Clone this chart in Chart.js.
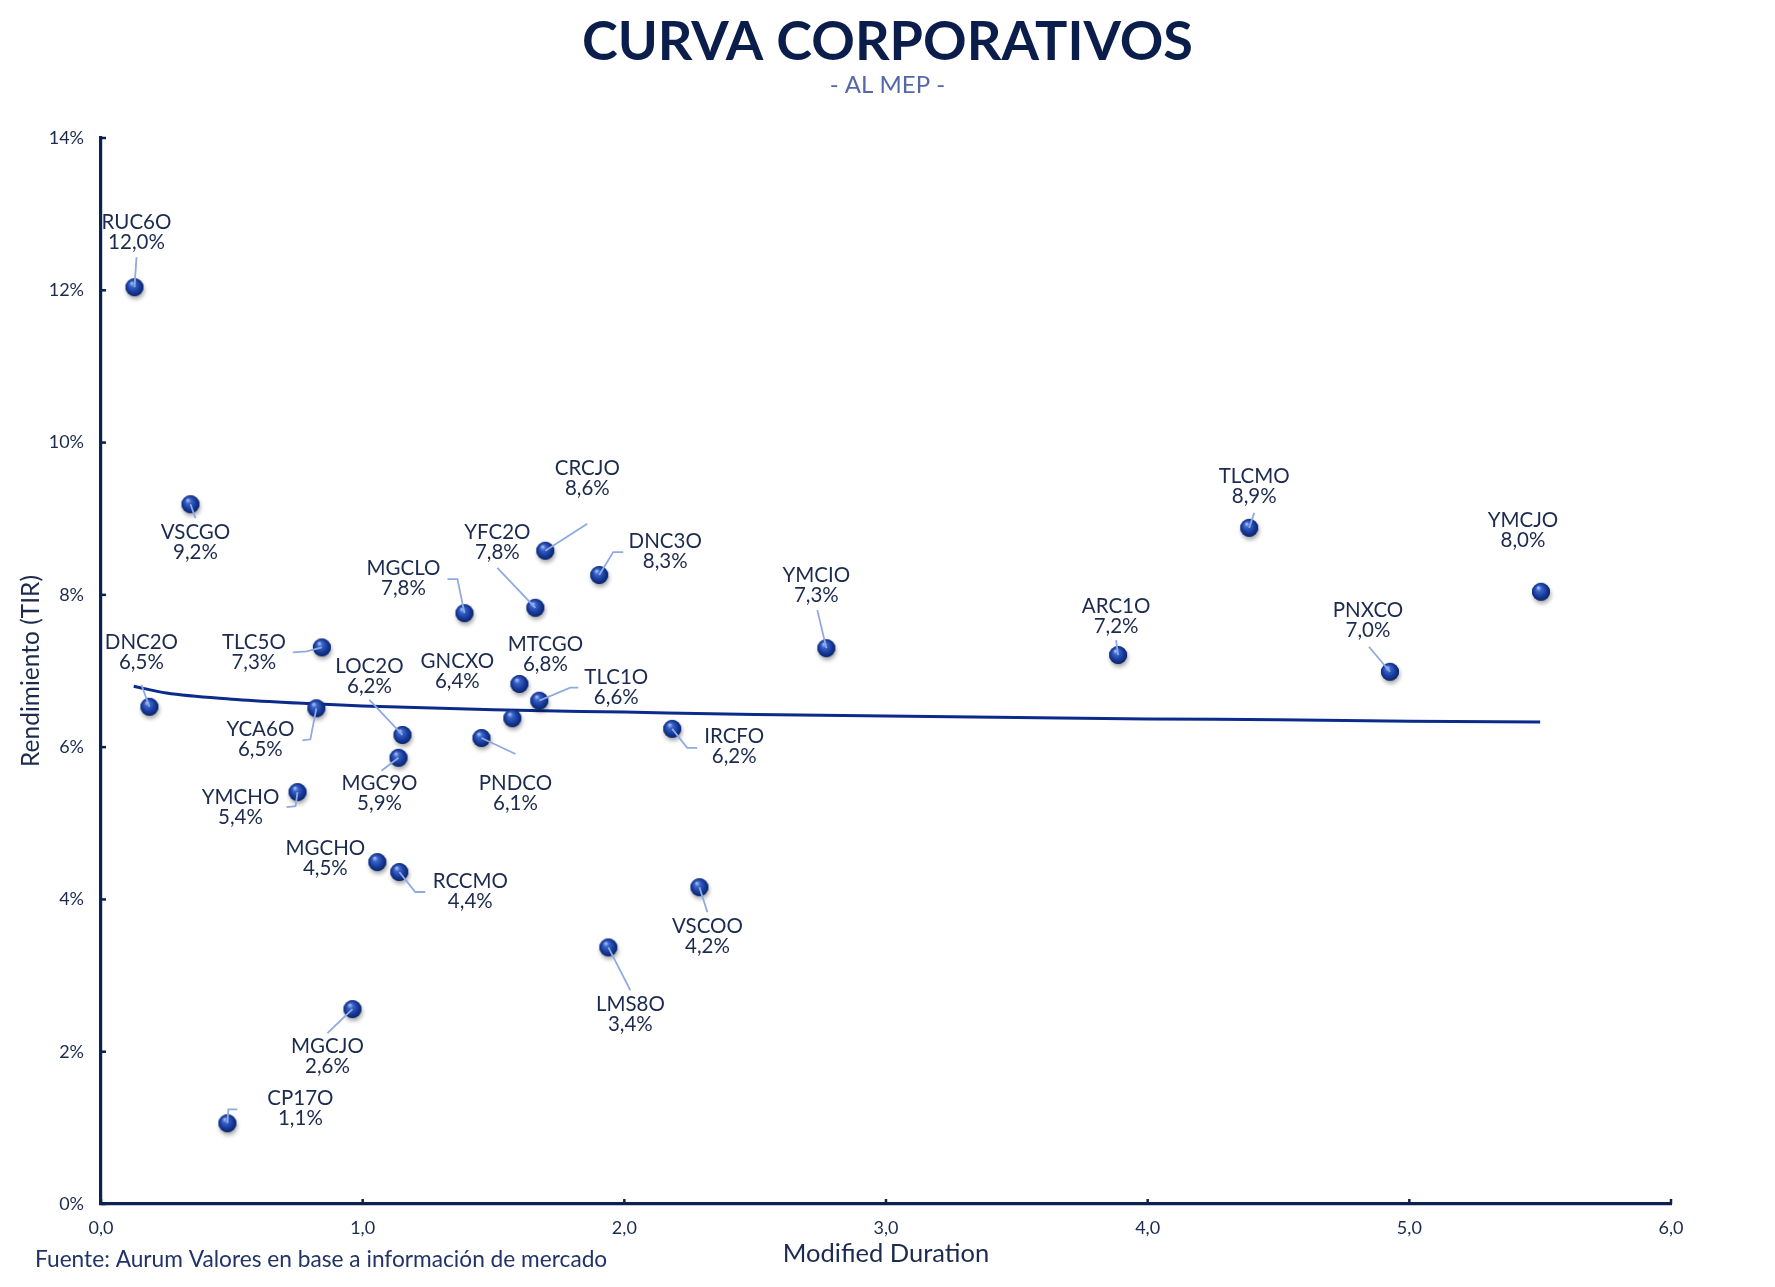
<!DOCTYPE html>
<html lang="es">
<head>
<meta charset="UTF-8">
<title>Curva Corporativos</title>
<style>
  html, body { margin: 0; padding: 0; background: #ffffff; }
  canvas { display: block; }
</style>
</head>
<body>
<canvas id="curva" width="1775" height="1287"></canvas>

<script src="https://cdn.jsdelivr.net/npm/chart.js"></script>
<script>
// datos
const tickers = ['RUC6O', 'VSCGO', 'DNC2O', 'TLC5O', 'YCA6O', 'YMCHO', 'MGCHO', 'RCCMO', 'MGCJO', 'CP17O',
                 'MGCLO', 'MGC9O', 'LOC2O', 'GNCXO', 'MTCGO', 'TLC1O', 'PNDCO', 'CRCJO', 'YFC2O', 'DNC3O',
                 'IRCFO', 'VSCOO', 'LMS8O', 'YMCIO', 'ARC1O', 'TLCMO', 'PNXCO', 'YMCJO'];
const duration = [0.128, 0.342, 0.185, 0.844, 0.823, 0.751, 1.056, 1.140, 0.961, 0.483,
                  1.389, 1.137, 1.152, 1.572, 1.599, 1.675, 1.454, 1.698, 1.660, 1.904,
                  2.183, 2.287, 1.939, 2.772, 3.887, 4.388, 4.926, 5.503];
const tir = [12.04, 9.19, 6.53, 7.31, 6.51, 5.41, 4.49, 4.36, 2.56, 1.06,
             7.76, 5.86, 6.16, 6.38, 6.83, 6.61, 6.12, 8.58, 7.83, 8.26,
             6.24, 4.16, 3.37, 7.30, 7.21, 8.88, 6.99, 8.04];

// linea de tendencia
const trendDuration = [0.125, 0.25, 0.5, 0.75, 1.0, 1.5, 2.0, 2.5, 3.0, 3.5, 4.0, 4.5, 5.0, 5.5];
const trendTir = [6.80, 6.71, 6.63, 6.58, 6.54, 6.49, 6.46, 6.43, 6.41, 6.39, 6.37, 6.36, 6.34, 6.33];

const yTicks = [0, 2, 4, 6, 8, 10, 12, 14];
const xTicks = [0, 1, 2, 3, 4, 5, 6];

// ubicacion de cada etiqueta respecto de su punto (px): nombre y linea guia
const labelLayout = [
  { name: [2, -65],   line: [[2, -30]] },
  { name: [5, 28],    line: [[5, 14]] },
  { name: [-8, -64],  line: [[-8, -22]] },
  { name: [-68, -5],  line: [[-15, 4], [-29, 5]] },
  { name: [-56, 21],  line: [[-6, 31], [-14, 32]] },
  { name: [-57, 5],   line: [[-2, 14], [-11, 15]] },
  { name: [-52, -14], line: [] },
  { name: [71, 9],    line: [[16, 20], [26, 20]] },
  { name: [-25, 37],  line: [[-25, 24]] },
  { name: [73, -25],  line: [[1, -14], [10, -14]] },
  { name: [-61, -45], line: [[-7, -34], [-17, -34]] },
  { name: [-19, 26],  line: [[-17, 13]] },
  { name: [-33, -69], line: [[-33, -35]] },
  { name: [-55, -57], line: [] },
  { name: [26, -40],  line: [] },
  { name: [77, -23],  line: [[31, -13], [39, -13]] },
  { name: [34, 45],   line: [[34, 16]] },
  { name: [42, -82],  line: [[42, -27]] },
  { name: [-38, -75], line: [[-38, -40]] },
  { name: [66, -34],  line: [[14, -23], [24, -23]] },
  { name: [62, 8],    line: [[15, 19], [25, 19]] },
  { name: [8, 39],    line: [[8, 25]] },
  { name: [22, 57],   line: [[22, 43]] },
  { name: [-10, -73], line: [[-9, -38]] },
  { name: [-2, -49],  line: [[-2, -15]] },
  { name: [5, -51],   line: [[5, -15]] },
  { name: [-22, -61], line: [[-21, -25]] },
  { name: [-18, -71], line: [] }
];

const NAVY = '#0c2150';
const TEXT = '#1b2a4e';
const FONT = 'Lato, "Noto Sans", sans-serif';

const fmtPct = v => v.toFixed(1).replace('.', ',') + '%';

// marcador tipo esfera
function makeSphere() {
  const c = document.createElement('canvas');
  c.width = 32; c.height = 32;
  const g = c.getContext('2d');
  g.save();
  g.shadowColor = 'rgba(0,0,0,0.35)';
  g.shadowBlur = 4;
  g.shadowOffsetX = 1;
  g.shadowOffsetY = 3;
  g.beginPath();
  g.arc(16, 16, 9, 0, Math.PI * 2);
  g.fillStyle = '#12348c';
  g.fill();
  g.restore();
  const grad = g.createRadialGradient(13.2, 11.8, 0.5, 16, 16, 9.6);
  grad.addColorStop(0, '#a9bff2');
  grad.addColorStop(0.25, '#3a63c9');
  grad.addColorStop(0.65, '#173c9c');
  grad.addColorStop(1, '#0a1f5e');
  g.beginPath();
  g.arc(16, 16, 9, 0, Math.PI * 2);
  g.fillStyle = grad;
  g.fill();
  return c;
}
const sphere = makeSphere();

const points = duration.map((d, i) => ({ x: d, y: tir[i] }));
const trend = trendDuration.map((d, i) => ({ x: d, y: trendTir[i] }));

const etiquetas = {
  id: 'etiquetas',
  afterDatasetsDraw(chart) {
    const ctx = chart.ctx;
    const meta = chart.getDatasetMeta(0);
    ctx.save();
    meta.data.forEach((pt, i) => {
      const lay = labelLayout[i];
      if (lay.line.length) {
        ctx.beginPath();
        ctx.moveTo(pt.x, pt.y);
        lay.line.forEach(p => ctx.lineTo(pt.x + p[0], pt.y + p[1]));
        ctx.strokeStyle = '#8eaae2';
        ctx.lineWidth = 1.8;
        ctx.stroke();
      }
      ctx.fillStyle = TEXT;
      ctx.font = '20.5px ' + FONT;
      ctx.textAlign = 'center';
      ctx.textBaseline = 'middle';
      ctx.fillText(tickers[i], pt.x + lay.name[0], pt.y + lay.name[1]);
      ctx.fillText(fmtPct(tir[i]), pt.x + lay.name[0], pt.y + lay.name[1] + 20);
    });
    ctx.restore();
  }
};

const marco = {
  id: 'marco',
  afterDraw(chart) {
    const ctx = chart.ctx;
    const { left, bottom } = chart.chartArea;
    const xs = chart.scales.x, ys = chart.scales.y;
    ctx.save();
    // marcas internas de los ejes
    ctx.strokeStyle = NAVY;
    ctx.lineWidth = 2.5;
    xTicks.forEach(t => {
      const px = xs.getPixelForValue(t);
      ctx.beginPath(); ctx.moveTo(px, bottom); ctx.lineTo(px, bottom - 5); ctx.stroke();
    });
    yTicks.forEach(t => {
      const py = ys.getPixelForValue(t);
      ctx.beginPath(); ctx.moveTo(left, py); ctx.lineTo(left + 5, py); ctx.stroke();
    });
    // titulos
    ctx.textAlign = 'center';
    ctx.textBaseline = 'alphabetic';
    ctx.fillStyle = '#0b1d4a';
    ctx.font = 'bold 54px ' + FONT;
    ctx.fillText('CURVA CORPORATIVOS', chart.width / 2, 60);
    ctx.fillStyle = '#5567a8';
    ctx.font = '24px ' + FONT;
    ctx.fillText('- AL MEP -', chart.width / 2, 93);
    // fuente
    ctx.textAlign = 'left';
    ctx.fillStyle = '#22336a';
    ctx.font = '22.7px ' + FONT;
    ctx.fillText('Fuente: Aurum Valores en base a información de mercado', 35, 1267);
    ctx.restore();
  }
};

new Chart(document.getElementById('curva'), {
  type: 'scatter',
  data: {
    datasets: [{
      label: 'Bonos',
      data: points,
      pointStyle: sphere,
      pointRadius: 16,
      order: 0
    }, {
      type: 'line',
      label: 'Tendencia',
      data: trend,
      borderColor: '#0a2b8a',
      borderWidth: 3,
      pointRadius: 0,
      fill: false,
      cubicInterpolationMode: 'monotone',
      order: 1
    }]
  },
  options: {
    responsive: false,
    animation: false,
    layout: { padding: { left: 0, right: 104, top: 138, bottom: 0 } },
    plugins: {
      legend: { display: false },
      tooltip: { enabled: false }
    },
    scales: {
      x: {
        type: 'linear',
        min: 0,
        max: 6,
        afterFit: s => { s.height = 83; },
        grid: { display: false, drawTicks: false },
        border: { display: true, color: NAVY, width: 3.2 },
        ticks: {
          stepSize: 1,
          padding: 13,
          color: TEXT,
          font: { family: FONT, size: 18 },
          callback: v => v.toFixed(1).replace('.', ',')
        },
        title: {
          display: true,
          text: 'Modified Duration',
          color: TEXT,
          font: { family: FONT, size: 25.5 },
          padding: { top: 0, bottom: 18 }
        }
      },
      y: {
        type: 'linear',
        min: 0,
        max: 14,
        afterFit: s => { s.width = 101; },
        grid: { display: false, drawTicks: false },
        border: { display: true, color: NAVY, width: 3.2 },
        ticks: {
          stepSize: 2,
          padding: 17,
          color: TEXT,
          font: { family: FONT, size: 18 },
          callback: v => v + '%'
        },
        title: {
          display: true,
          text: 'Rendimiento (TIR)',
          color: TEXT,
          font: { family: FONT, size: 24.5 },
          padding: { top: 16, bottom: 0 }
        }
      }
    }
  },
  plugins: [etiquetas, marco]
});
</script>
</body>
</html>
